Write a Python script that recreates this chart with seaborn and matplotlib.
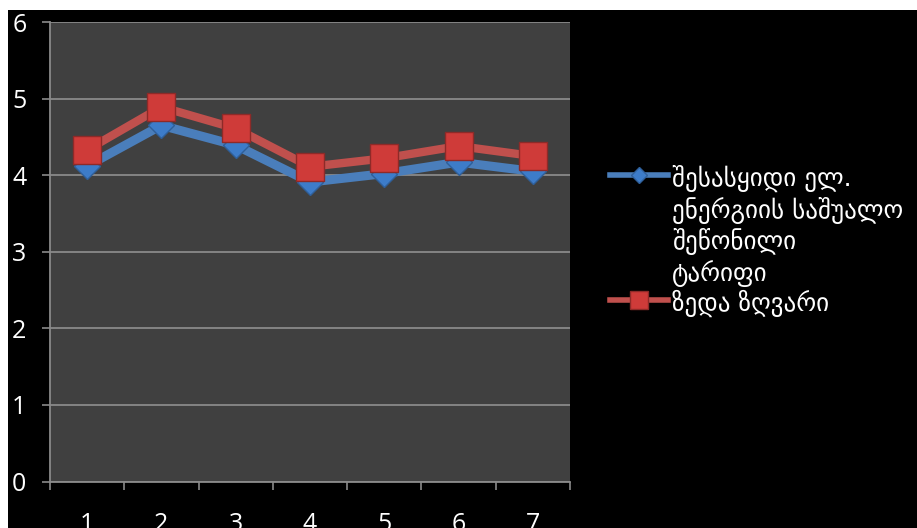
import numpy as np
import pandas as pd
import matplotlib
matplotlib.use("Agg")
import matplotlib.pyplot as plt
from matplotlib.lines import Line2D
from matplotlib.patches import Rectangle
from matplotlib.ticker import FixedLocator
import seaborn as sns

# Monthly tariff figures
periods = ["1", "2", "3", "4", "5", "6", "7"]
avg_tariff = [4.12, 4.65, 4.39, 3.91, 4.02, 4.17, 4.05]
upper_limit = [4.33, 4.89, 4.61, 4.11, 4.22, 4.38, 4.25]
y_ticks = [0, 1, 2, 3, 4, 5, 6]
series_names = [
    "შესასყიდი ელ.\nენერგიის საშუალო\nშეწონილი\nტარიფი",
    "ზედა ზღვარი",
]

BLUE = "#4A7EBB"
BLUE_FILL = "#3D7CC9"
BLUE_DARK = "#2F5F99"
RED = "#C0504D"
RED_FILL = "#CF3B39"
RED_DARK = "#8E2A28"
GRID = "#8A8A8A"
PANEL = "#404040"

df_avg = pd.DataFrame({"period": periods, "value": avg_tariff})
df_up = pd.DataFrame({"period": periods, "value": upper_limit})

plt.rcParams["font.family"] = ["Open Sans", "DejaVu Sans"]

W, H = 917, 528
fig = plt.figure(figsize=(W / 100, H / 100), dpi=100, facecolor="white")
fig.add_artist(Rectangle((8 / W, 0), 1, (H - 10) / H, transform=fig.transFigure,
                         facecolor="black", edgecolor="none", zorder=-10))

ax = fig.add_axes([50 / W, 46.5 / H, 520 / W, 459.5 / H])
ax.set_facecolor(PANEL)

sns.lineplot(data=df_avg, x="period", y="value", ax=ax, color=BLUE, lw=6.5,
             marker="D", markersize=13.5, markerfacecolor=BLUE_FILL,
             markeredgecolor=BLUE_DARK, markeredgewidth=1, sort=False,
             legend=False, zorder=3)
sns.lineplot(data=df_up, x="period", y="value", ax=ax, color=RED, lw=6,
             marker="s", markersize=19.5, markerfacecolor=RED_FILL,
             markeredgecolor=RED_DARK, markeredgewidth=1, sort=False,
             legend=False, zorder=4)

ax.set_xlim(-0.5, len(periods) - 0.5)
ax.set_ylim(0, 6)
ax.set_yticks(y_ticks)
ax.set_xlabel("")
ax.set_ylabel("")
ax.set_axisbelow(True)
ax.yaxis.grid(True, color=GRID, lw=1.3)
ax.xaxis.grid(False)

for side in ("top", "right"):
    ax.spines[side].set_visible(False)
for side in ("left", "bottom"):
    ax.spines[side].set_color(GRID)
    ax.spines[side].set_linewidth(1.3)

ax.xaxis.set_minor_locator(FixedLocator(np.arange(-0.5, len(periods), 1.0)))
ax.tick_params(axis="x", which="major", bottom=True, length=0, pad=22,
               labelsize=18, labelcolor="white")
ax.tick_params(axis="x", which="minor", bottom=True, length=6, width=1.2,
               color=GRID, direction="out")
ax.tick_params(axis="y", which="major", left=True, length=6, width=1.2,
               color=GRID, direction="out", pad=11, labelsize=18,
               labelcolor="white")

handles = [
    Line2D([], [], color=BLUE, lw=4, marker="D", markersize=8.5,
           markerfacecolor=BLUE_FILL, markeredgecolor=BLUE_DARK),
    Line2D([], [], color=RED, lw=4, marker="s", markersize=13,
           markerfacecolor=RED_FILL, markeredgecolor=RED_DARK),
]
leg = fig.legend(handles, series_names, loc="upper left",
                 bbox_to_anchor=(610 / W, 1 - 165 / H), frameon=False,
                 prop={"family": "DejaVu Sans", "size": 18},
                 labelcolor="white", handlelength=2.3, handletextpad=0.17,
                 handleheight=1.1, labelspacing=0.12, borderpad=0,
                 borderaxespad=0)
for item in leg._legend_handle_box.get_children()[0].get_children():
    item.align = "top"
leg.get_texts()[0].set_linespacing(1.22)

fig.savefig("out.png", dpi=100, facecolor=fig.get_facecolor())
